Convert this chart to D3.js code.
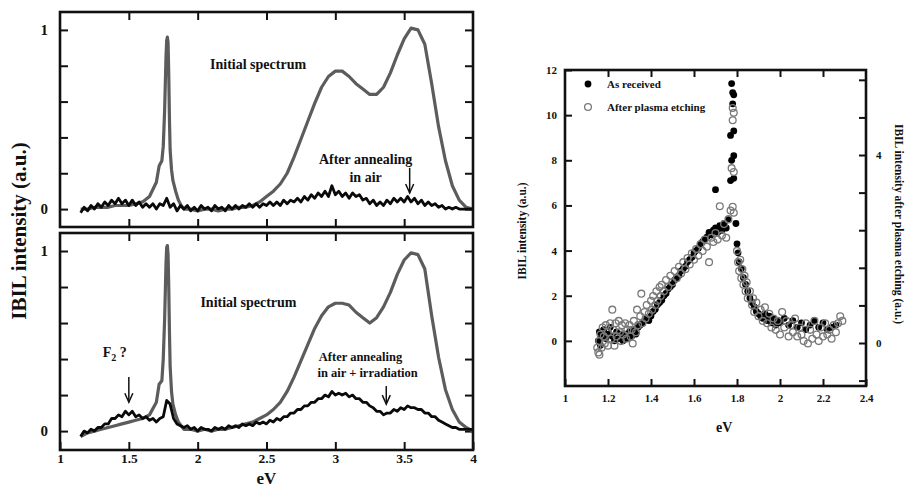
<!DOCTYPE html>
<html>
<head>
<meta charset="utf-8">
<script src="https://cdn.jsdelivr.net/npm/d3@7"></script>
<style>
  body { margin: 0; background: #fff; }
  text { font-family: "Liberation Serif", "Times New Roman", serif; font-weight: bold; fill: #111; }
</style>
</head>
<body>
<script>
/*
*    IBIL spectra + scatter
*/

// ---- left panels : spectra ----
var evGray = [1.15, 1.2, 1.25, 1.3, 1.35, 1.4, 1.45, 1.5, 1.55, 1.6, 1.65, 1.7, 1.72, 1.74, 1.75, 1.76, 1.77, 1.775, 1.78, 1.785,
  1.79, 1.795, 1.8, 1.81, 1.82, 1.84, 1.86, 1.88, 1.9, 1.95, 2.0, 2.05, 2.1, 2.15, 2.2, 2.25, 2.3, 2.35, 2.4, 2.45,
  2.5, 2.55, 2.6, 2.65, 2.7, 2.75, 2.8, 2.85, 2.9, 2.95, 3.0, 3.05, 3.1, 3.15, 3.2, 3.25, 3.3, 3.35, 3.4, 3.45,
  3.5, 3.55, 3.6, 3.65, 3.7, 3.75, 3.8, 3.85, 3.9, 3.95, 4.0];

var initialTop = [0.0, 0.0, 0.01, 0.01, 0.01, 0.02, 0.02, 0.02, 0.03, 0.04, 0.07, 0.15, 0.24, 0.27, 0.35, 0.55, 0.85, 0.94, 0.96, 0.93,
  0.75, 0.5, 0.33, 0.22, 0.16, 0.1, 0.05, 0.02, 0.0, 0.0, -0.01, 0.0, 0.0, -0.01, 0.0, 0.0, 0.01, 0.01, 0.02, 0.04,
  0.07, 0.1, 0.14, 0.2, 0.29, 0.39, 0.49, 0.59, 0.68, 0.74, 0.77, 0.77, 0.74, 0.70, 0.67, 0.64, 0.64, 0.68, 0.76, 0.86,
  0.95, 1.01, 1.0, 0.92, 0.70, 0.46, 0.27, 0.13, 0.05, 0.01, 0.0];

var initialBottom = [-0.03, -0.01, 0.0, 0.01, 0.02, 0.03, 0.04, 0.05, 0.06, 0.07, 0.09, 0.16, 0.26, 0.28, 0.4, 0.62, 0.93, 1.02, 1.03, 0.98,
  0.8, 0.55, 0.36, 0.22, 0.15, 0.09, 0.05, 0.03, 0.01, 0.01, 0.0, 0.01, 0.0, 0.01, 0.01, 0.02, 0.03, 0.04, 0.05, 0.07,
  0.09, 0.12, 0.16, 0.22, 0.3, 0.39, 0.48, 0.57, 0.64, 0.69, 0.71, 0.71, 0.70, 0.66, 0.63, 0.60, 0.63, 0.69, 0.77, 0.87,
  0.95, 0.99, 0.98, 0.90, 0.64, 0.41, 0.23, 0.12, 0.05, 0.02, 0.0];

var evBlack = [1.15, 1.175, 1.2, 1.225, 1.25, 1.275, 1.3, 1.325, 1.35, 1.375, 1.4, 1.425, 1.45, 1.475, 1.5, 1.525, 1.55, 1.575, 1.6, 1.625,
  1.65, 1.675, 1.7, 1.725, 1.75, 1.775, 1.8, 1.825, 1.85, 1.875, 1.9, 1.925, 1.95, 1.975, 2.0, 2.025, 2.05, 2.075, 2.1, 2.125,
  2.15, 2.175, 2.2, 2.225, 2.25, 2.275, 2.3, 2.325, 2.35, 2.375, 2.4, 2.425, 2.45, 2.475, 2.5, 2.525, 2.55, 2.575, 2.6, 2.625,
  2.65, 2.675, 2.7, 2.725, 2.75, 2.775, 2.8, 2.825, 2.85, 2.875, 2.9, 2.925, 2.95, 2.975, 3.0, 3.025, 3.05, 3.075, 3.1, 3.125,
  3.15, 3.175, 3.2, 3.225, 3.25, 3.275, 3.3, 3.325, 3.35, 3.375, 3.4, 3.425, 3.45, 3.475, 3.5, 3.525, 3.55, 3.575, 3.6, 3.625,
  3.65, 3.675, 3.7, 3.725, 3.75, 3.775, 3.8, 3.825, 3.85, 3.875, 3.9, 3.925, 3.95, 3.975, 4.0];

var annealedAir = [-0.02, 0.01, -0.01, 0.02, 0.0, 0.03, 0.01, 0.04, 0.02, 0.05, 0.03, 0.06, 0.03, 0.05, 0.02, 0.05, 0.02, 0.04, 0.01, 0.03,
  0.01, 0.03, 0.0, 0.03, 0.02, 0.06, 0.01, 0.03, -0.01, 0.02, 0.0, 0.02, -0.01, 0.01, -0.01, 0.02, 0.0, 0.01, -0.01, 0.02,
  0.0, 0.01, -0.01, 0.02, 0.0, 0.02, 0.0, 0.02, 0.01, 0.03, 0.01, 0.03, 0.01, 0.03, 0.02, 0.04, 0.02, 0.04, 0.02, 0.05,
  0.03, 0.05, 0.04, 0.06, 0.04, 0.07, 0.05, 0.08, 0.06, 0.09, 0.07, 0.10, 0.07, 0.13, 0.08, 0.10, 0.07, 0.09, 0.06, 0.09,
  0.07, 0.08, 0.05, 0.06, 0.03, 0.05, 0.02, 0.04, 0.02, 0.05, 0.03, 0.06, 0.04, 0.06, 0.04, 0.07, 0.04, 0.06, 0.03, 0.05,
  0.02, 0.04, 0.02, 0.03, 0.01, 0.02, 0.0, 0.01, 0.0, 0.01, 0.0, 0.0, 0.0, 0.0, 0.0];

var annealedIrr = [-0.03, 0.0, -0.01, 0.01, 0.0, 0.02, 0.02, 0.04, 0.04, 0.07, 0.07, 0.09, 0.08, 0.11, 0.09, 0.11, 0.08, 0.09, 0.07, 0.08,
  0.06, 0.07, 0.05, 0.07, 0.08, 0.17, 0.15, 0.07, 0.04, 0.03, 0.02, 0.03, 0.01, 0.02, 0.0, 0.02, 0.01, 0.01, 0.0, 0.02,
  0.01, 0.02, 0.01, 0.03, 0.02, 0.03, 0.02, 0.04, 0.03, 0.04, 0.03, 0.05, 0.04, 0.05, 0.04, 0.06, 0.05, 0.07, 0.06, 0.08,
  0.08, 0.10, 0.10, 0.12, 0.12, 0.14, 0.14, 0.16, 0.16, 0.18, 0.18, 0.20, 0.19, 0.22, 0.20, 0.21, 0.20, 0.21, 0.19, 0.20,
  0.18, 0.18, 0.16, 0.16, 0.14, 0.13, 0.11, 0.11, 0.09, 0.10, 0.10, 0.12, 0.11, 0.13, 0.12, 0.14, 0.13, 0.13, 0.12, 0.12,
  0.10, 0.10, 0.08, 0.08, 0.06, 0.05, 0.04, 0.03, 0.02, 0.02, 0.01, 0.01, 0.01, 0.01, 0.01];

var leftXTicks = [1, 1.5, 2, 2.5, 3, 3.5, 4];
var leftYTicks = [0, 0.2, 0.4, 0.6, 0.8, 1];

// ---- right panel : scatter ----
var asReceivedEv = [1.155, 1.16, 1.165, 1.17, 1.18, 1.19, 1.2, 1.21, 1.22, 1.23, 1.24, 1.25, 1.26, 1.27, 1.28, 1.29, 1.3, 1.31, 1.32, 1.33,
  1.34, 1.35, 1.36, 1.37, 1.38, 1.39, 1.4, 1.41, 1.42, 1.43, 1.44, 1.45, 1.46, 1.47, 1.48, 1.49, 1.5, 1.51, 1.52, 1.53,
  1.54, 1.55, 1.56, 1.57, 1.58, 1.59, 1.6, 1.61, 1.62, 1.63, 1.64, 1.65, 1.66, 1.67, 1.68, 1.69, 1.7, 1.7, 1.71, 1.72,
  1.73, 1.74, 1.75, 1.76, 1.77, 1.775, 1.77, 1.78, 1.775, 1.78, 1.785, 1.785, 1.785, 1.785, 1.795, 1.8, 1.805, 1.81, 1.82, 1.83,
  1.84, 1.85, 1.86, 1.87, 1.88, 1.89, 1.9, 1.91, 1.92, 1.93, 1.94, 1.95, 1.96, 1.97, 1.98, 1.99, 2.0, 2.02, 2.04, 2.06,
  2.08, 2.1, 2.12, 2.14, 2.16, 2.18, 2.2, 2.22, 2.24, 2.26];
var asReceivedVal = [0.0, 0.4, -0.2, 0.2, 0.5, 0.1, 0.3, 0.6, 0.2, 0.0, 0.4, 0.1, 0.3, 0.0, 0.3, 0.1, 0.4, 0.2, 0.5, 0.3,
  0.6, 0.7, 0.8, 0.9, 1.0, 0.9, 1.1, 1.3, 1.4, 1.6, 1.7, 1.8, 2.0, 2.1, 2.3, 2.4, 2.5, 2.7, 2.8, 2.9,
  3.1, 3.2, 3.3, 3.5, 3.6, 3.7, 3.9, 4.0, 4.1, 4.3, 4.4, 4.5, 4.6, 4.8, 4.7, 4.9, 5.0, 6.7, 4.8, 5.1,
  4.9, 5.2, 5.0, 5.4, 7.1, 8.0, 9.1, 10.5, 11.4, 11.0, 10.9, 9.3, 8.2, 7.2, 5.2, 4.3, 3.9, 3.5, 3.2, 2.8,
  2.5, 2.2, 1.9, 1.7, 1.5, 1.3, 1.2, 1.1, 1.0, 1.2, 0.9, 1.1, 0.8, 1.0, 0.7, 0.9, 0.8, 1.0, 0.7, 0.9,
  0.6, 0.8, 0.5, 0.7, 0.9, 0.6, 0.8, 0.5, 0.6, 0.7];

var plasmaEv = [1.15, 1.155, 1.16, 1.16, 1.165, 1.17, 1.175, 1.18, 1.185, 1.19, 1.2, 1.2, 1.21, 1.215, 1.22, 1.225, 1.23, 1.235, 1.24, 1.25,
  1.255, 1.26, 1.265, 1.27, 1.28, 1.285, 1.29, 1.3, 1.305, 1.31, 1.315, 1.32, 1.33, 1.335, 1.34, 1.35, 1.355, 1.36, 1.37, 1.375,
  1.38, 1.39, 1.4, 1.405, 1.41, 1.42, 1.425, 1.43, 1.44, 1.445, 1.45, 1.46, 1.47, 1.48, 1.49, 1.5, 1.51, 1.52, 1.53, 1.54,
  1.55, 1.56, 1.57, 1.58, 1.59, 1.6, 1.61, 1.62, 1.63, 1.64, 1.65, 1.66, 1.67, 1.68, 1.69, 1.7, 1.71, 1.72, 1.73, 1.74,
  1.75, 1.76, 1.77, 1.78, 1.785, 1.775, 1.785, 1.78, 1.785, 1.78, 1.8, 1.805, 1.81, 1.815, 1.82, 1.825, 1.83, 1.835, 1.84, 1.845,
  1.85, 1.86, 1.87, 1.875, 1.88, 1.89, 1.9, 1.91, 1.92, 1.93, 1.94, 1.95, 1.96, 1.97, 1.98, 1.99, 2.0, 2.01, 2.02, 2.03,
  2.04, 2.05, 2.06, 2.07, 2.08, 2.09, 2.1, 2.11, 2.12, 2.13, 2.14, 2.15, 2.16, 2.17, 2.18, 2.19, 2.2, 2.21, 2.22, 2.23,
  2.24, 2.25, 2.26, 2.27, 2.28, 2.29];
var plasmaVal = [-0.10, -0.20, -0.25, 0.04, 0.18, -0.10, 0.33, 0.14, -0.01, 0.38, 0.23, -0.06, 0.42, 0.09, 0.71, 0.28, -0.06, 0.42, 0.14, 0.47,
  0.23, 0.04, 0.38, 0.18, 0.42, 0.09, 0.28, 0.38, 0.14, 0.28, -0.01, 0.47, 0.23, 0.71, 0.38, 0.57, 1.05, 0.42, 0.66, 0.52,
  0.81, 0.62, 0.90, 0.71, 1.00, 0.81, 1.10, 0.90, 1.19, 1.00, 1.24, 1.10, 1.34, 1.19, 1.43, 1.29, 1.53, 1.38, 1.62, 1.48,
  1.72, 1.57, 1.81, 1.67, 1.91, 1.77, 2.00, 1.86, 2.10, 1.96, 2.20, 2.05, 1.72, 2.24, 2.15, 2.34, 2.20, 2.91, 2.29, 2.53,
  2.24, 2.63, 2.82, 2.90, 2.77, 3.72, 3.64, 4.74, 4.90, 5.00, 1.96, 1.72, 1.53, 1.77, 1.38, 1.57, 1.24, 1.43, 1.10, 1.29,
  0.95, 1.10, 0.81, 0.95, 0.66, 0.86, 0.57, 0.71, 0.47, 0.76, 0.42, 0.62, 0.33, 0.52, 0.28, 0.47, 0.18, 0.66, 0.33, 0.47,
  0.14, 0.38, 0.23, 0.52, 0.14, 0.33, 0.18, 0.04, 0.42, -0.01, 0.28, 0.09, 0.47, 0.18, 0.04, 0.33, 0.14, 0.42, 0.18, 0.28,
  0.09, 0.38, 0.23, 0.42, 0.57, 0.47];

var rightXTicks = [1, 1.2, 1.4, 1.6, 1.8, 2, 2.2, 2.4];
var rightYTicks = [0, 2, 4, 6, 8, 10, 12];
var rightY2Ticks = [-0.8, 0, 0.8, 1.6, 2.4, 3.2, 4, 4.8, 5.6];
var rightY2Labels = [0, 4];

// ---- svg ----
var svg = d3.select("body").append("svg")
    .attr("width", 906)
    .attr("height", 487);

var grayCol = "#5c5c5c";

// scales
var lx = d3.scaleLinear().domain([1, 4]).range([60, 473]);
var yTop = d3.scaleLinear().domain([-0.1, 1.1]).range([227, 12]);
var yBot = d3.scaleLinear().domain([-0.105, 1.1]).range([450, 233]);

function frame(x, y) {
    svg.append("rect")
        .attr("x", x.range()[0])
        .attr("y", y.range()[1])
        .attr("width", x.range()[1] - x.range()[0])
        .attr("height", y.range()[0] - y.range()[1])
        .attr("fill", "none")
        .attr("stroke", "#111")
        .attr("stroke-width", 2.6);
}

function inwardAxis(axis, transform, labelFn, fontSize) {
    var g = svg.append("g")
        .attr("transform", transform)
        .call(axis.tickSizeOuter(0).tickFormat(labelFn));
    g.select(".domain").remove();
    g.selectAll(".tick line").attr("stroke", "#111").attr("stroke-width", 2);
    g.selectAll(".tick text")
        .attr("font-family", "'Liberation Serif', serif")
        .attr("font-weight", "bold")
        .attr("font-size", fontSize)
        .attr("fill", "#111");
    return g;
}

function spectrumPanel(y, gray, black, showX) {
    var x0 = lx.range()[0], x1 = lx.range()[1];
    var innerX = leftXTicks.filter(d => d > 1 && d < 4);
    inwardAxis(d3.axisBottom(lx).tickValues(showX ? leftXTicks : innerX).tickSizeInner(-8).tickPadding(3),
        "translate(0," + y.range()[0] + ")", showX ? (d => d3.format("")(d)) : (d => ""), 13.5);
    inwardAxis(d3.axisTop(lx).tickValues(innerX).tickSizeInner(-8),
        "translate(0," + y.range()[1] + ")", d => "", 14);
    inwardAxis(d3.axisLeft(y).tickValues(leftYTicks).tickSizeInner(-8).tickPadding(12),
        "translate(" + x0 + ",0)", d => (d === 0 || d === 1) ? d : "", 15);
    inwardAxis(d3.axisRight(y).tickValues(leftYTicks).tickSizeInner(-8),
        "translate(" + x1 + ",0)", d => "", 14);

    var line = d3.line()
        .x(d => lx(d[0]))
        .y(d => y(d[1]));

    svg.append("path")
        .datum(d3.zip(evGray, gray))
        .attr("d", line)
        .attr("fill", "none")
        .attr("stroke", grayCol)
        .attr("stroke-width", 3.2)
        .attr("stroke-linejoin", "round");

    svg.append("path")
        .datum(d3.zip(evBlack, black))
        .attr("d", line)
        .attr("fill", "none")
        .attr("stroke", "#0a0a0a")
        .attr("stroke-width", 2.8)
        .attr("stroke-linejoin", "round");

    frame(lx, y);
}

spectrumPanel(yTop, initialTop, annealedAir, false);
spectrumPanel(yBot, initialBottom, annealedIrr, true);

function arrow(x, yA, yB) {
    svg.append("line")
        .attr("x1", x).attr("x2", x).attr("y1", yA).attr("y2", yB)
        .attr("stroke", "#111").attr("stroke-width", 1.5);
    svg.append("path")
        .attr("d", "M" + (x - 4) + "," + (yB - 9) + " L" + x + "," + yB + " L" + (x + 4) + "," + (yB - 9))
        .attr("fill", "none").attr("stroke", "#111").attr("stroke-width", 1.5);
}

function note(x, y, txt, size, anchor) {
    return svg.append("text")
        .attr("x", x).attr("y", y)
        .attr("font-size", size)
        .attr("text-anchor", anchor || "start")
        .text(txt);
}

// annotations, top
note(lx(2.09), yTop(0.78), "Initial spectrum", 14);
note(lx(3.22), yTop(0.25), "After annealing", 14, "middle");
note(lx(3.22), yTop(0.15), "in air", 14, "middle");
arrow(lx(3.54), yTop(0.23), yTop(0.09));

// annotations, bottom
note(lx(2.02), yBot(0.69), "Initial spectrum", 14);
var f2 = note(lx(1.31), yBot(0.41), "F", 14);
f2.append("tspan").attr("font-size", 10).attr("dy", 4).text("2");
f2.append("tspan").attr("dy", -4).text(" ?");
arrow(lx(1.5), yBot(0.30), yBot(0.16));
note(lx(2.88), yBot(0.39), "After annealing", 12.5);
note(lx(2.87), yBot(0.30), "in air + irradiation", 12.5);
arrow(lx(3.37), yBot(0.25), yBot(0.15));

// axis titles, left
note(0, 0, "IBIL intensity (a.u.)", 21, "middle")
    .attr("transform", "translate(26,231) rotate(-90)");
note(lx(2.5), 484, "eV", 17, "middle");

// ---- right scatter ----
var rx = d3.scaleLinear().domain([1, 2.4]).range([565, 866]);
var ry = d3.scaleLinear().domain([-2, 12]).range([386, 70]);
var ry2 = d3.scaleLinear().domain([-0.915, 5.809]).range([386, 70]);

var innerRX = rightXTicks.filter(d => d > 1 && d < 2.4);
inwardAxis(d3.axisBottom(rx).tickValues(rightXTicks).tickSizeInner(-7).tickPadding(8),
    "translate(0,386)", d => d3.format("")(d), 11);
inwardAxis(d3.axisTop(rx).tickValues(innerRX).tickSizeInner(-7),
    "translate(0,70)", d => "", 11);
inwardAxis(d3.axisLeft(ry).tickValues(rightYTicks).tickSizeInner(-7).tickPadding(8),
    "translate(565,0)", d => d3.format("")(d), 11);
inwardAxis(d3.axisRight(ry2).tickValues(rightY2Ticks).tickSizeInner(-7).tickPadding(10),
    "translate(866,0)", d => rightY2Labels.indexOf(d) >= 0 ? d : "", 11);

var asReceived = d3.zip(asReceivedEv, asReceivedVal);
var plasma = d3.zip(plasmaEv, plasmaVal);

svg.append("g").selectAll("circle")
    .data(asReceived)
    .enter().append("circle")
        .attr("cx", d => rx(d[0]))
        .attr("cy", d => ry(d[1]))
        .attr("r", 3.4)
        .attr("fill", "#000");

svg.append("g").selectAll("circle")
    .data(plasma)
    .enter().append("circle")
        .attr("cx", d => rx(d[0]))
        .attr("cy", d => ry2(d[1]))
        .attr("r", 3.4)
        .attr("fill", "none")
        .attr("stroke", "#7a7a7a")
        .attr("stroke-width", 1.3);

frame(rx, ry);

// legend
svg.append("circle").attr("cx", 588).attr("cy", 84).attr("r", 3.4).attr("fill", "#000");
note(607, 88, "As received", 11);
svg.append("circle").attr("cx", 588).attr("cy", 107).attr("r", 3.4)
    .attr("fill", "none").attr("stroke", "#7a7a7a").attr("stroke-width", 1.3);
note(607, 111, "After plasma etching", 11);

// axis titles, right
note(0, 0, "IBIL intensity (a.u.)", 11.5, "middle")
    .attr("transform", "translate(526,231) rotate(-90)");
note(0, 0, "IBIL intensity after plasma etching (a.u.)", 11.5, "middle")
    .attr("transform", "translate(895,224) rotate(90)");
note(rx(1.74), 432, "eV", 14, "middle");
</script>
</body>
</html>
